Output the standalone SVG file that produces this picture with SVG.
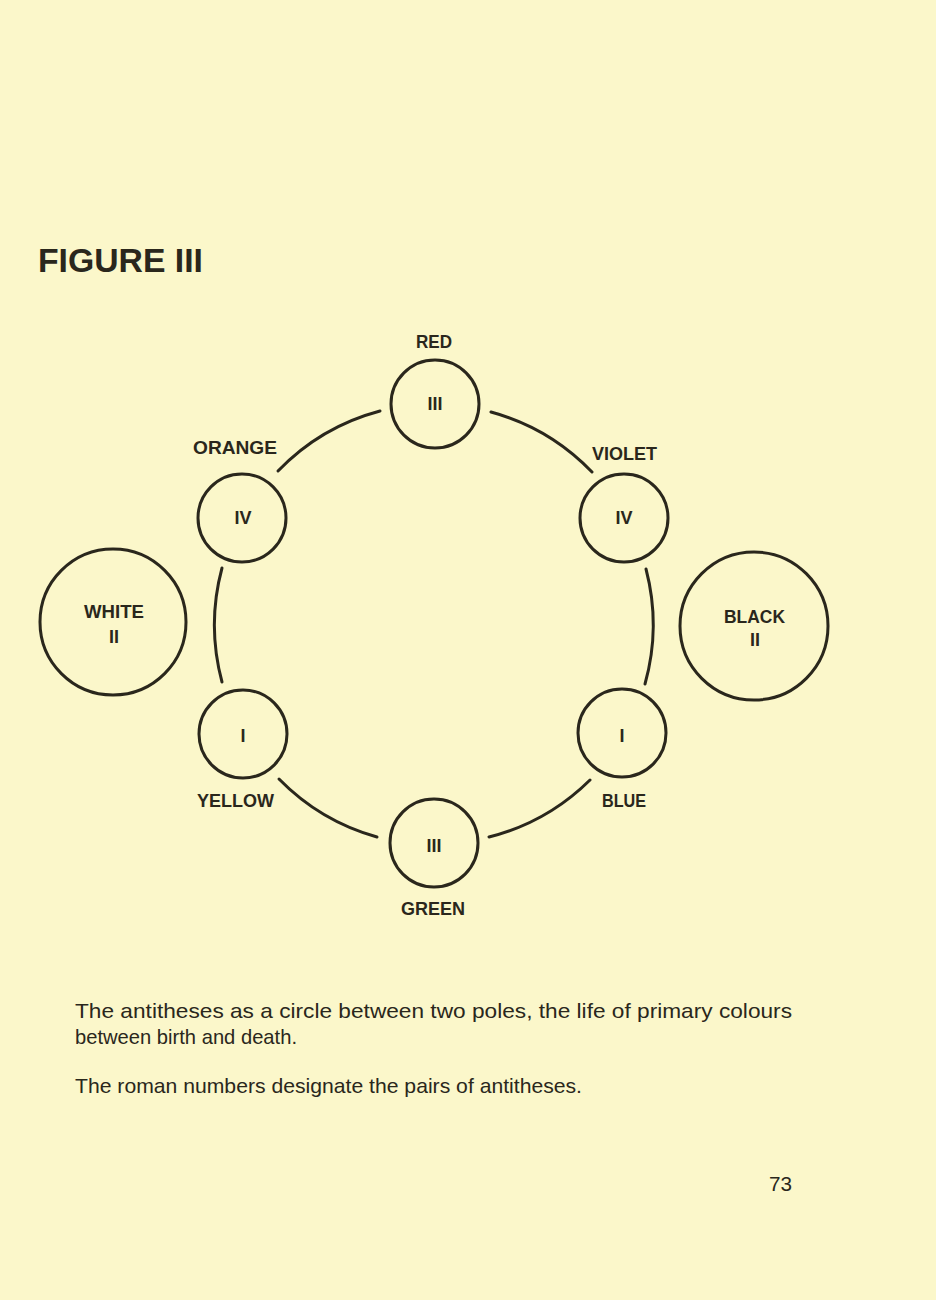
<svg xmlns="http://www.w3.org/2000/svg" width="936" height="1300" viewBox="0 0 936 1300">
<style>
.bg{fill:#fbf7ca}
.node{fill:none;stroke:#2a271c;stroke-width:3}
.edge{fill:none;stroke:#2a271c;stroke-width:3;stroke-linecap:round}
.lbl{font-family:"Liberation Sans",Arial,sans-serif;font-weight:bold;font-size:18px;fill:#2a271c;text-anchor:middle}
.num{font-family:"Liberation Sans",Arial,sans-serif;font-weight:bold;font-size:18px;fill:#2a271c;text-anchor:middle}
.title{font-family:"Liberation Sans",Arial,sans-serif;font-weight:bold;font-size:33px;fill:#2a271c}
.cap{font-family:"Liberation Sans",Arial,sans-serif;font-size:21px;fill:#2a271c}
</style>
<rect class="bg" x="0" y="0" width="936" height="1300"/>
<text class="title" x="38" y="272" textLength="165" lengthAdjust="spacingAndGlyphs">FIGURE  III</text>

<g id="connectors">
<path class="edge" d="M278,471 A220,220 0 0 1 380,411"/>
<path class="edge" d="M491,412 A220,220 0 0 1 592,472"/>
<path class="edge" d="M646,569 A220,220 0 0 1 645,684"/>
<path class="edge" d="M590,780 A220,220 0 0 1 489,837"/>
<path class="edge" d="M377,837 A220,220 0 0 1 279,779"/>
<path class="edge" d="M222,682 A220,220 0 0 1 222,568"/>
</g>

<g id="red">
<circle class="node" cx="435" cy="404" r="44"/>
<text class="lbl" x="434" y="348" textLength="36" lengthAdjust="spacingAndGlyphs">RED</text>
<text class="num" x="435" y="410">III</text>
</g>
<g id="orange">
<circle class="node" cx="242" cy="518" r="44"/>
<text class="lbl" x="235" y="454" textLength="84" lengthAdjust="spacingAndGlyphs">ORANGE</text>
<text class="num" x="243" y="524">IV</text>
</g>
<g id="violet">
<circle class="node" cx="624" cy="518" r="44"/>
<text class="lbl" x="624.5" y="460" textLength="65" lengthAdjust="spacingAndGlyphs">VIOLET</text>
<text class="num" x="624" y="524">IV</text>
</g>
<g id="yellow">
<circle class="node" cx="243" cy="734" r="44"/>
<text class="lbl" x="235.5" y="807" textLength="77" lengthAdjust="spacingAndGlyphs">YELLOW</text>
<text class="num" x="243" y="742">I</text>
</g>
<g id="blue">
<circle class="node" cx="622" cy="733" r="44"/>
<text class="lbl" x="624" y="807" textLength="44" lengthAdjust="spacingAndGlyphs">BLUE</text>
<text class="num" x="622" y="742">I</text>
</g>
<g id="green">
<circle class="node" cx="434" cy="843" r="44"/>
<text class="lbl" x="433" y="915" textLength="64" lengthAdjust="spacingAndGlyphs">GREEN</text>
<text class="num" x="434" y="852">III</text>
</g>
<g id="white">
<circle class="node" cx="113" cy="622" r="73"/>
<text class="lbl" x="114" y="618" textLength="60" lengthAdjust="spacingAndGlyphs">WHITE</text>
<text class="num" x="114" y="643">II</text>
</g>
<g id="black">
<circle class="node" cx="754" cy="626" r="74"/>
<text class="lbl" x="754.5" y="623" textLength="61" lengthAdjust="spacingAndGlyphs">BLACK</text>
<text class="num" x="755" y="646">II</text>
</g>

<text class="cap" x="75" y="1018" textLength="717" lengthAdjust="spacingAndGlyphs">The antitheses as a circle between two poles, the life of primary colours</text>
<text class="cap" x="75" y="1044" textLength="222" lengthAdjust="spacingAndGlyphs">between birth and death.</text>
<text class="cap" x="75" y="1093" textLength="507" lengthAdjust="spacingAndGlyphs">The roman numbers designate the pairs of antitheses.</text>
<text class="cap" x="769" y="1191" textLength="23" lengthAdjust="spacingAndGlyphs">73</text>
</svg>
